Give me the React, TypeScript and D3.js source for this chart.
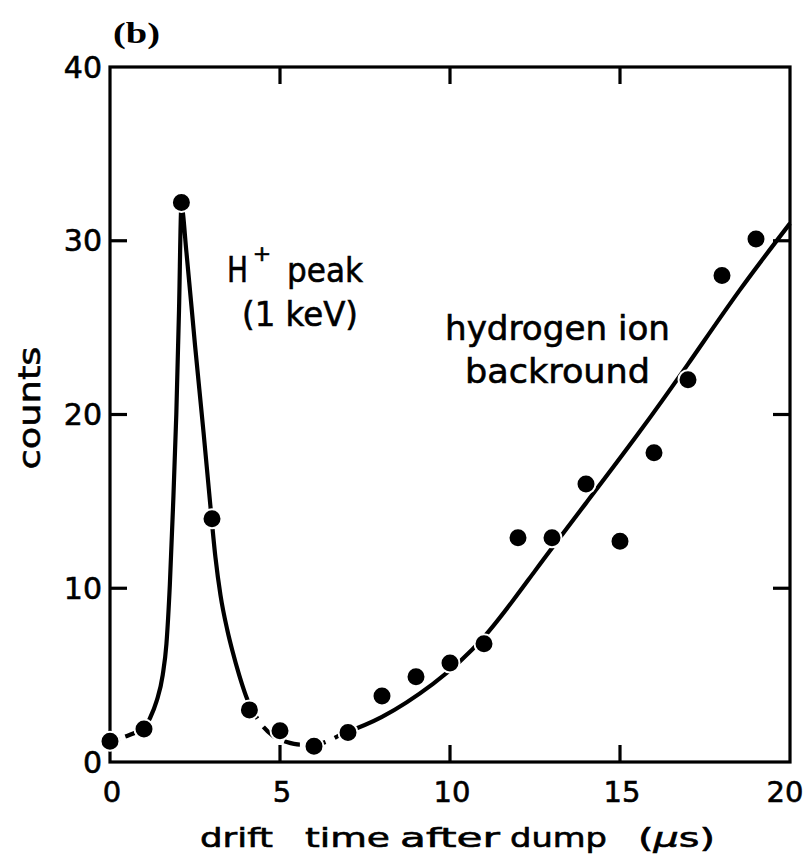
import React from 'react';
import * as d3 from 'd3';

// measured data points (drift time in µs, counts)
const times = [0, 1, 2.1, 3, 4.1, 5, 6, 7, 8, 9, 10, 11, 12, 13, 14, 15, 16, 17, 18, 19];
const counts = [1.2, 1.9, 32.2, 14, 3, 1.8, 0.9, 1.7, 3.8, 4.9, 5.7, 6.8, 12.9, 12.9, 16, 12.7, 17.8, 22, 28, 30.1];

// fitted curve, split into its dashed / solid pieces
const fitDashLeft: [number, number][] = [[0, 1.2], [0.5, 1.5], [1, 1.9]];
const fitPeak: [number, number][] = [
  [1, 1.9], [1.17, 2.5], [1.37, 3.5], [1.55, 5.0], [1.66, 6.8], [1.76, 10.2], [1.85, 14.5],
  [1.95, 20], [2.03, 26], [2.1, 32], [2.25, 29.3], [2.5, 24], [2.75, 19], [2.95, 14.8],
  [3.1, 11.8], [3.25, 9.6], [3.45, 7.6], [3.6, 6.4], [3.8, 5.0], [4.0, 3.8], [4.1, 3.3],
];
const fitDashDip: [number, number][] = [
  [4.1, 3.3], [4.4, 2.3], [4.8, 1.5], [5.2, 1.15], [5.6, 1.0], [6.0, 1.0], [6.4, 1.2], [6.8, 1.6],
];
const fitBackground: [number, number][] = [
  [6.8, 1.6], [8, 2.6], [9.5, 4.5], [11, 7.2], [12.5, 11.0], [14, 14.9], [15.5, 18.8],
  [17, 22.9], [18.5, 27.1], [20, 31],
];

const xTickValues = [0, 5, 10, 15, 20];
const yTickValues = [0, 10, 20, 30, 40];
const innerXTicks = [5, 10, 15];
const innerYTicks = [10, 20, 30];

const FONT = '"DejaVu Sans", sans-serif';

export default function App() {
  const W = 805;
  const H = 862;
  const x = d3.scaleLinear().domain([0, 20]).range([110, 790]);
  const y = d3.scaleLinear().domain([0, 40]).range([762, 67]);
  const lineMono = d3
    .line<[number, number]>()
    .x((d) => x(d[0]))
    .y((d) => y(d[1]))
    .curve(d3.curveMonotoneX);
  const lineSmooth = d3
    .line<[number, number]>()
    .x((d) => x(d[0]))
    .y((d) => y(d[1]))
    .curve(d3.curveNatural);

  const x0 = x(0), x1 = x(20), y0 = y(0), y1 = y(40);
  const tickLen = 17;
  const axisW = 3.2;
  const curveW = 4.2;

  return (
    <svg
      width={W}
      height={H}
      viewBox={`0 0 ${W} ${H}`}
      style={{ position: 'absolute', left: 0, top: 0, background: '#fff' }}
    >
      <rect x={0} y={0} width={W} height={H} fill="#fff" />

      {/* frame */}
      <rect x={x0} y={y1} width={x1 - x0} height={y0 - y1} fill="none" stroke="#000" strokeWidth={axisW} />

      {/* inner ticks */}
      {innerXTicks.map((v) => (
        <g key={'xt' + v}>
          <line x1={x(v)} x2={x(v)} y1={y0} y2={y0 - tickLen} stroke="#000" strokeWidth={axisW} />
          <line x1={x(v)} x2={x(v)} y1={y1} y2={y1 + tickLen} stroke="#000" strokeWidth={axisW} />
        </g>
      ))}
      {innerYTicks.map((v) => (
        <g key={'yt' + v}>
          <line x1={x0} x2={x0 + tickLen} y1={y(v)} y2={y(v)} stroke="#000" strokeWidth={axisW} />
          <line x1={x1} x2={x1 - tickLen} y1={y(v)} y2={y(v)} stroke="#000" strokeWidth={axisW} />
        </g>
      ))}

      {/* tick labels */}
      {yTickValues.map((v) => (
        <text
          key={'yl' + v}
          x={x0 - 8}
          y={y(v)}
          textAnchor="end"
          dominantBaseline="central"
          fontFamily={FONT}
          fontSize={30}
          stroke="#000"
          strokeWidth={0.6}
        >
          {v}
        </text>
      ))}
      {xTickValues.map((v) => (
        <text
          key={'xl' + v}
          x={Math.min(x(v) + 2, 785)}
          y={y0 + 30}
          textAnchor="middle"
          dominantBaseline="central"
          fontFamily={FONT}
          fontSize={29}
          stroke="#000"
          strokeWidth={0.6}
        >
          {v}
        </text>
      ))}

      {/* fitted curve */}
      <path d={lineMono(fitDashLeft) || ''} fill="none" stroke="#000" strokeWidth={curveW} strokeDasharray="10 6" />
      <path d={lineMono(fitPeak) || ''} fill="none" stroke="#000" strokeWidth={curveW} strokeLinejoin="round" />
      <path d={lineMono(fitDashDip) || ''} fill="none" stroke="#000" strokeWidth={curveW} strokeDasharray="16 10" />
      <path d={lineSmooth(fitBackground) || ''} fill="none" stroke="#000" strokeWidth={curveW} />

      {/* data points */}
      {times.map((t, i) => (
        <circle key={'p' + i} cx={x(t)} cy={y(counts[i])} r={9.5} fill="#000" stroke="#fff" strokeWidth={2} />
      ))}

      {/* panel label */}
      <text x={113} y={43} fontFamily='"Liberation Serif", serif' fontWeight="bold" fontSize={30} textLength={47} lengthAdjust="spacingAndGlyphs">
        (b)
      </text>

      {/* annotations */}
      <g fontFamily={FONT} fill="#000" stroke="#000" strokeWidth={0.6}>
        <text x={227} y={282} fontSize={36} textLength={21} lengthAdjust="spacingAndGlyphs">H</text>
        <text x={262} y={261} fontSize={22} textAnchor="middle">+</text>
        <text x={287} y={282} fontSize={34} textLength={76} lengthAdjust="spacingAndGlyphs">peak</text>
        <text x={242} y={326} fontSize={34} textLength={116} lengthAdjust="spacingAndGlyphs">(1 keV)</text>
        <text x={445} y={340} fontSize={34} textLength={225} lengthAdjust="spacingAndGlyphs">hydrogen ion</text>
        <text x={465} y={383} fontSize={34} textLength={185} lengthAdjust="spacingAndGlyphs">backround</text>
      </g>

      {/* axis titles */}
      <g fontFamily={FONT} fill="#000" stroke="#000" strokeWidth={0.6}>
        <text
          transform="translate(40,408) rotate(-90)"
          textAnchor="middle"
          fontSize={31}
          textLength={123}
          lengthAdjust="spacingAndGlyphs"
        >
          counts
        </text>
        <text x={200} y={847} fontSize={27} textLength={73} lengthAdjust="spacingAndGlyphs">drift</text>
        <text x={305} y={847} fontSize={27} textLength={85} lengthAdjust="spacingAndGlyphs">time</text>
        <text x={400} y={847} fontSize={27} textLength={100} lengthAdjust="spacingAndGlyphs">after</text>
        <text x={510} y={847} fontSize={27} textLength={97} lengthAdjust="spacingAndGlyphs">dump</text>
        <text x={638} y={847} fontSize={27} textLength={77} lengthAdjust="spacingAndGlyphs">
          (<tspan fontStyle="italic">μ</tspan>s)
        </text>
      </g>
    </svg>
  );
}
